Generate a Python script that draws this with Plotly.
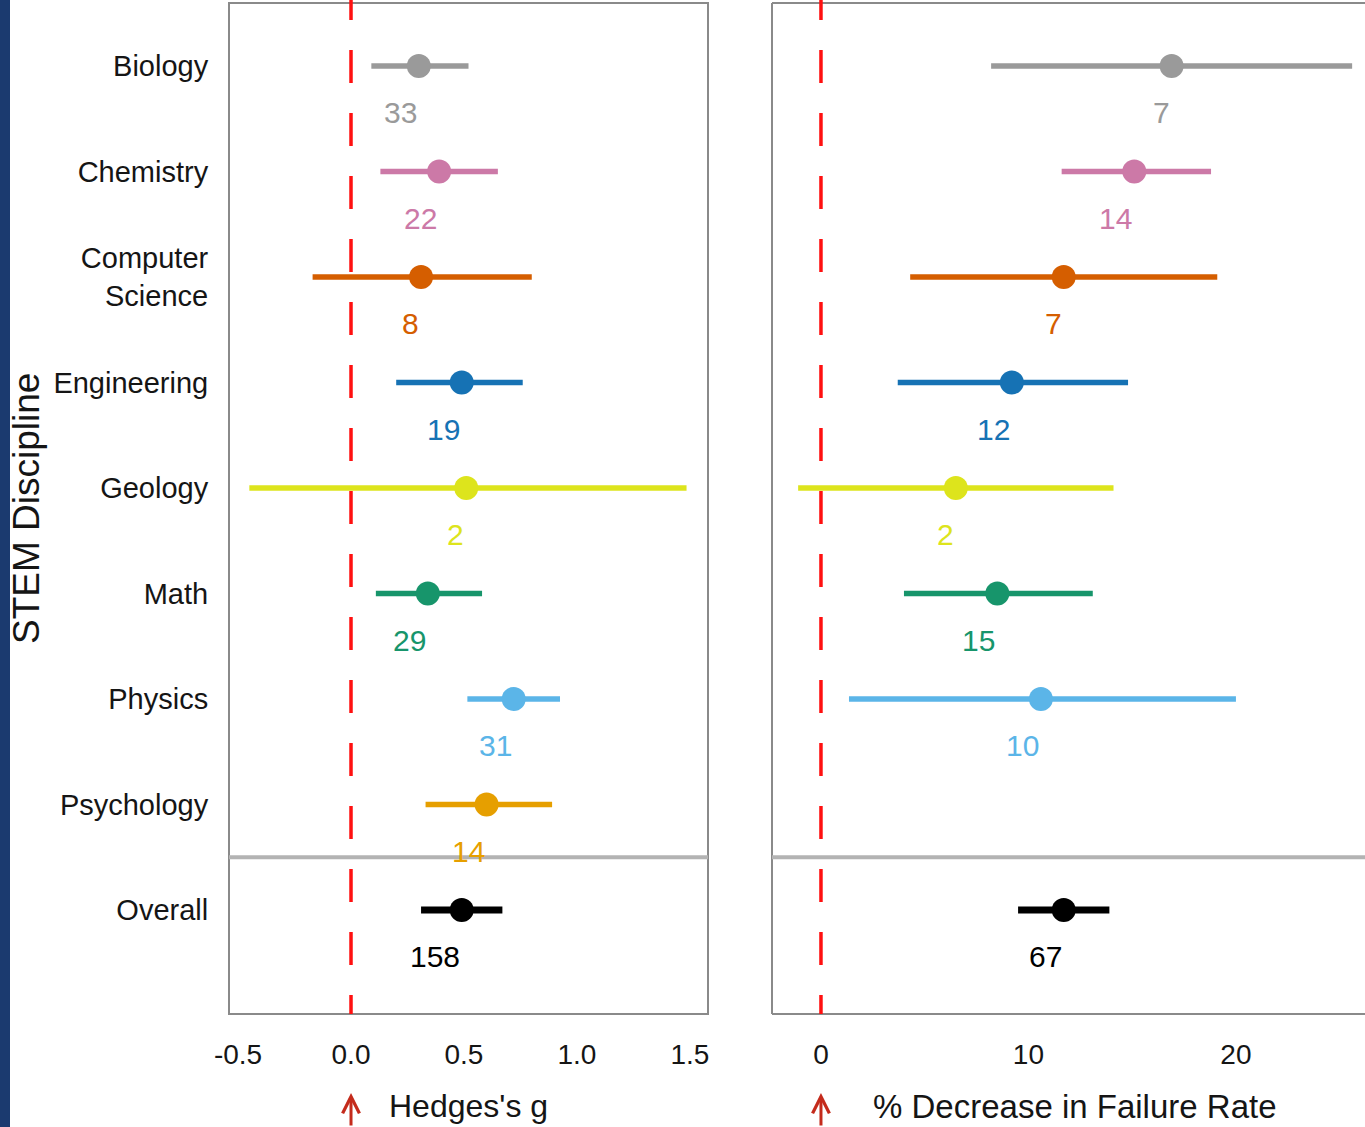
import plotly.graph_objects as go

# ---- data -------------------------------------------------------------
disciplines = ["Biology", "Chemistry", "Computer Science", "Engineering",
               "Geology", "Math", "Physics", "Psychology", "Overall"]
tick_text = ["Biology", "Chemistry", "Computer<br>Science", "Engineering",
             "Geology", "Math", "Physics", "Psychology", "Overall"]
colors = ["#9a9a9a", "#CC79A7", "#D55E00", "#1672B4", "#DDE41C",
          "#17956B", "#5BB5E8", "#E69F00", "#000000"]

# Hedges's g: estimate, 95% CI, number of studies
g_est = [0.30, 0.39, 0.31, 0.49, 0.51, 0.34, 0.72, 0.60, 0.49]
g_lo = [0.09, 0.13, -0.17, 0.20, -0.45, 0.11, 0.515, 0.33, 0.31]
g_hi = [0.52, 0.65, 0.80, 0.76, 1.485, 0.58, 0.925, 0.89, 0.67]
g_k = [33, 22, 8, 19, 2, 29, 31, 14, 158]

# % decrease in failure rate: estimate, 95% CI, number of studies
fail_est = [16.9, 15.1, 11.7, 9.2, 6.5, 8.5, 10.6, None, 11.7]
fail_lo = [8.2, 11.6, 4.3, 3.7, -1.1, 4.0, 1.35, None, 9.5]
fail_hi = [25.6, 18.8, 19.1, 14.8, 14.1, 13.1, 20.0, None, 13.9]
fail_k = [7, 14, 7, 12, 2, 15, 10, None, 67]

W, H = 1365, 1127
FONT = "Liberation Sans, Arial, sans-serif"
INK = "#151515"

fig = go.Figure()
annotations = []


def add_panel(est, lo, hi, k, xa, ya):
    for i, name in enumerate(disciplines):
        if est[i] is None:
            continue
        overall = name == "Overall"
        fig.add_trace(go.Scatter(
            x=[lo[i], hi[i]], y=[i, i], mode="lines",
            line=dict(color=colors[i], width=7 if overall else 5.5),
            xaxis=xa, yaxis=ya, showlegend=False, hoverinfo="skip"))
        fig.add_trace(go.Scatter(
            x=[est[i]], y=[i], mode="markers",
            marker=dict(color=colors[i], size=24),
            xaxis=xa, yaxis=ya, showlegend=False, name=name))
        annotations.append(dict(
            x=est[i], y=i, xref=xa, yref=ya, text=str(k[i]), showarrow=False,
            xanchor="right", yanchor="middle", xshift=0, yshift=-47,
            font=dict(family=FONT, size=30, color=colors[i])))


add_panel(g_est, g_lo, g_hi, g_k, "x", "y")
add_panel(fail_est, fail_lo, fail_hi, fail_k, "x2", "y2")

y_dom = [1 - 1014 / H, 1 - 3 / H]
y_rng = [8.986, -0.597]

shapes = [
    # navy strip on the left edge
    dict(type="rect", xref="paper", yref="paper", x0=0, x1=10 / W, y0=0, y1=1,
         fillcolor="#1b3a6f", line=dict(width=0), layer="below"),
    # left panel frame
    dict(type="rect", xref="x domain", yref="y domain", x0=0, x1=1, y0=0, y1=1,
         line=dict(color="#8a8a8a", width=2), layer="below"),
    # right panel frame (runs off the right edge)
    dict(type="line", xref="x2 domain", yref="y2 domain", x0=0, x1=0, y0=0, y1=1,
         line=dict(color="#8a8a8a", width=2), layer="below"),
    dict(type="line", xref="x2 domain", yref="y2 domain", x0=0, x1=1.02, y0=1, y1=1,
         line=dict(color="#8a8a8a", width=2), layer="below"),
    dict(type="line", xref="x2 domain", yref="y2 domain", x0=0, x1=1.02, y0=0, y1=0,
         line=dict(color="#8a8a8a", width=2), layer="below"),
]
for xa, ya in (("x", "y"), ("x2", "y2")):
    # separator between disciplines and the overall estimate
    shapes.append(dict(type="line", xref=f"{xa} domain", yref=ya, x0=0,
                       x1=1.02 if xa == "x2" else 1, y0=7.5, y1=7.5,
                       line=dict(color="#b3b3b3", width=4), layer="below"))
    # zero-effect reference line
    shapes.append(dict(type="line", xref=xa, yref=f"{ya} domain", x0=0, x1=0,
                       y0=1.0158, y1=0,
                       line=dict(color="#ff1010", width=3.5, dash="33px,30px"),
                       layer="above"))

# axis titles, drawn as annotations
annotations += [
    dict(text="STEM Discipline", textangle=-90, x=26 / W, y=1 - 509 / H,
         xref="paper", yref="paper", xanchor="center", yanchor="middle",
         showarrow=False, font=dict(family=FONT, size=37, color=INK)),
    dict(text="Hedges's g", x=468 / W, y=1 - 1106 / H, xref="paper", yref="paper",
         xanchor="center", yanchor="middle", showarrow=False,
         font=dict(family=FONT, size=32, color=INK)),
    dict(text="% Decrease in Failure Rate", x=1075 / W, y=1 - 1106 / H,
         xref="paper", yref="paper", xanchor="center", yanchor="middle",
         showarrow=False, font=dict(family=FONT, size=33, color=INK)),
]
# red arrows marking zero on each axis
for xa in ("x", "x2"):
    annotations.append(dict(x=0, y=1 - 1093 / H, xref=xa, yref="paper", text="",
                            showarrow=True, ax=0, ay=60, arrowhead=5, arrowwidth=3,
                            arrowsize=1.1, arrowcolor="#c42b1c"))

tick_font = dict(family=FONT, size=28, color=INK)
common = dict(showgrid=False, zeroline=False, showline=False, automargin=False)
fig.update_layout(
    width=W, height=H, margin=dict(l=0, r=0, t=0, b=0, pad=0, autoexpand=False),
    paper_bgcolor="white", plot_bgcolor="white",
    xaxis=dict(domain=[229 / W, 708 / W], range=[-0.540, 1.580], anchor="y",
               tickvals=[-0.5, 0, 0.5, 1.0, 1.5],
               ticktext=["-0.5", "0.0", "0.5", "1.0", "1.5"],
               ticks="outside", ticklen=15, tickcolor="rgba(0,0,0,0)",
               tickfont=tick_font, **common),
    xaxis2=dict(domain=[772 / W, 1.0], range=[-2.36, 26.22], anchor="y2",
                tickvals=[0, 10, 20], ticktext=["0", "10", "20"],
                ticks="outside", ticklen=15, tickcolor="rgba(0,0,0,0)",
                tickfont=tick_font, **common),
    yaxis=dict(domain=y_dom, range=y_rng, anchor="x",
               tickvals=list(range(len(disciplines))), ticktext=tick_text,
               ticks="outside", ticklen=14, tickcolor="rgba(0,0,0,0)",
               tickfont=dict(family=FONT, size=29, color=INK), **common),
    yaxis2=dict(domain=y_dom, range=y_rng, anchor="x2", showticklabels=False, **common),
    shapes=shapes, annotations=annotations,
)

fig.write_html("out.html")
